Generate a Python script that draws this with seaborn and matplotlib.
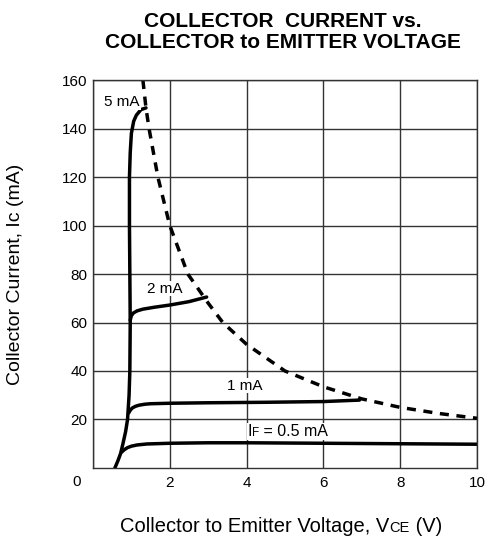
import matplotlib
matplotlib.use("Agg")
import matplotlib.pyplot as plt
import seaborn as sns
from matplotlib.offsetbox import TextArea, HPacker, AnnotationBbox

# Curve data (Vce in V, Ic in mA)
vce_5ma = [0.57, 0.65, 0.72, 0.78, 0.85, 0.9, 0.94, 0.96, 0.97, 0.96, 0.95, 0.95, 0.97, 1.0, 1.06, 1.13, 1.25, 1.38]
ic_5ma = [0, 3, 6, 10, 15, 20, 30, 40, 60, 80, 100, 120, 130, 138, 143, 145.5, 147.8, 148.5]

vce_2ma = [0.97, 1.0, 1.05, 1.15, 1.3, 1.6, 2.0, 2.5, 2.96]
ic_2ma = [61, 62.8, 63.9, 64.8, 65.5, 66.3, 67.2, 68.6, 70.5]

vce_1ma = [0.93, 0.97, 1.02, 1.1, 1.2, 1.35, 1.5, 2.0, 3.0, 4.5, 6.0, 6.94]
ic_1ma = [22.7, 23.8, 24.7, 25.4, 25.9, 26.3, 26.5, 26.7, 26.9, 27.1, 27.4, 28.0]

vce_05ma = [0.75, 0.82, 0.9, 1.0, 1.15, 1.4, 2.0, 3.0, 4.0, 6.0, 8.0, 10.0]
ic_05ma = [6.6, 7.6, 8.4, 9.0, 9.5, 9.9, 10.2, 10.4, 10.4, 10.2, 10.0, 9.8]

# Dashed max power dissipation curve
vce_pmax = [1.3, 1.38, 1.46, 1.69, 2.0, 2.47, 3.0, 3.38, 4.0, 5.0, 6.0, 7.0, 8.0, 9.0, 10.0]
ic_pmax = [160, 148.5, 140, 120, 100, 80, 68, 60, 51, 40, 33.5, 28.5, 25, 22.5, 20.5]

x_ticks = [0, 2, 4, 6, 8, 10]
y_ticks = [20, 40, 60, 80, 100, 120, 140, 160]

sns.set_style("white")
plt.rcParams["font.family"] = ["Liberation Sans", "DejaVu Sans"]
plt.rcParams["text.color"] = "black"
plt.rcParams["axes.labelcolor"] = "black"
plt.rcParams["xtick.color"] = "black"
plt.rcParams["ytick.color"] = "black"

fig = plt.figure(figsize=(4.93, 5.37), dpi=100)
ax = fig.add_axes([0.1886, 0.1285, 0.7789, 0.7225])

curves = [(vce_5ma, ic_5ma), (vce_2ma, ic_2ma), (vce_1ma, ic_1ma), (vce_05ma, ic_05ma)]
for xs, ys in curves:
    sns.lineplot(x=xs, y=ys, ax=ax, sort=False, estimator=None, color="black",
                 linewidth=2.5, solid_capstyle="round", solid_joinstyle="round")

sns.lineplot(x=vce_pmax, y=ic_pmax, ax=ax, sort=False, estimator=None, color="black",
             linewidth=2.5, dashes=False)
ax.lines[-1].set_linestyle((0, (2.6, 2.2)))

ax.set_xlim(0, 10)
ax.set_ylim(0, 160)
ax.set_xticks(x_ticks)
ax.set_yticks(y_ticks)
# the "0" sits at the corner, drawn separately below
ax.set_xticklabels([""] + [str(t) for t in x_ticks[1:]], fontsize=11)
ax.set_yticklabels([str(t) for t in y_ticks], fontsize=11)
ax.tick_params(axis="x", length=0, pad=6)
ax.tick_params(axis="y", length=0, pad=4)
ax.annotate("0", xy=(0, 0), xytext=(-12, -10), textcoords="offset points",
            fontsize=11, ha="center", va="center")
ax.grid(True, color="#333333", linewidth=1.0)
ax.set_axisbelow(True)
for sp in ax.spines.values():
    sp.set_color("#333333")
    sp.set_linewidth(1.0)

lbl_bg = dict(facecolor="white", edgecolor="none", pad=0.5)
ax.text(0.3, 151, "5 mA", fontsize=11, va="center", ha="left", bbox=lbl_bg)
ax.text(1.41, 74, "2 mA", fontsize=11, va="center", ha="left", bbox=lbl_bg)
ax.text(3.5, 34, "1 mA", fontsize=11, va="center", ha="left", bbox=lbl_bg)

# IF = 0.5 mA with small-caps style subscript
if_box = HPacker(children=[TextArea("I", textprops=dict(fontsize=11.5)),
                           TextArea("F", textprops=dict(fontsize=8.5)),
                           TextArea(" = 0.5 mA", textprops=dict(fontsize=11.5))],
                 align="baseline", pad=0, sep=0)
ax.add_artist(AnnotationBbox(if_box, (4.02, 15), xycoords="data", box_alignment=(0, 0.5),
                             frameon=True, bboxprops=dict(facecolor="white", edgecolor="none"),
                             pad=0.05))

ax.set_ylabel("Collector Current, Ic (mA)", fontsize=14, labelpad=27)

xl_box = HPacker(children=[TextArea("Collector to Emitter Voltage, V", textprops=dict(fontsize=14.5)),
                           TextArea("CE", textprops=dict(fontsize=10.5)),
                           TextArea(" (V)", textprops=dict(fontsize=14.5))],
                 align="baseline", pad=0, sep=0)
ax.add_artist(AnnotationBbox(xl_box, (0.49, -0.152), xycoords="axes fraction",
                             box_alignment=(0.5, 0.5), frameon=False))

fig.text(0.574, 0.978, "COLLECTOR  CURRENT vs.\nCOLLECTOR to EMITTER VOLTAGE",
         fontsize=15, fontweight="bold", ha="center", va="top", linespacing=1.12)

plt.savefig("out.png", dpi=100)
plt.close()
